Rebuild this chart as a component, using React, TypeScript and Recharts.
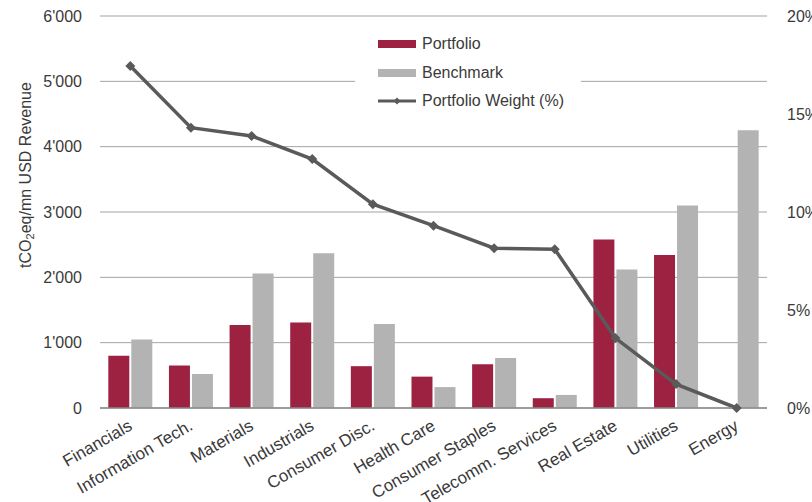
import React from "react";
import {
  ComposedChart,
  Bar,
  Line,
  XAxis,
  YAxis,
  CartesianGrid,
  Legend,
} from "recharts";

// Sectors along the x axis
const sectors = [
  "Financials",
  "Information Tech.",
  "Materials",
  "Industrials",
  "Consumer Disc.",
  "Health Care",
  "Consumer Staples",
  "Telecomm. Services",
  "Real Estate",
  "Utilities",
  "Energy",
];

// Carbon intensity, tCO2eq per mn USD revenue
const portfolio = [800, 650, 1270, 1310, 640, 480, 670, 150, 2580, 2340, 0];
const benchmark = [1050, 520, 2060, 2370, 1285, 320, 765, 200, 2120, 3100, 4250];

// Portfolio weight by sector, in percent
const weight = [17.45, 14.3, 13.88, 12.7, 10.4, 9.3, 8.15, 8.1, 3.57, 1.22, 0];

const leftTicks = [0, 1000, 2000, 3000, 4000, 5000, 6000];
const rightTicks = [0, 5, 10, 15, 20];

const data = sectors.map((sector, i) => ({
  sector,
  portfolio: portfolio[i],
  benchmark: benchmark[i],
  weight: weight[i],
}));

const FONT = "'Liberation Sans', Arial, sans-serif";
const TEXT = "#3a3a3a";
const RED = "#9d2141";
const GREY = "#b3b3b3";
const LINE = "#5a5a5a";

const fmtThousands = (v: number) =>
  v === 0 ? "0" : `${Math.floor(v / 1000)}'${String(v % 1000).padStart(3, "0")}`;

const SectorTick = (props: any) => {
  const { x, y, payload } = props;
  const px = x + 3;
  const py = y + 13;
  return (
    <text
      x={px}
      y={py}
      transform={`rotate(-30, ${px}, ${py})`}
      textAnchor="end"
      fontFamily={FONT}
      fontSize={17}
      fill={TEXT}
    >
      {payload.value}
    </text>
  );
};

const Diamond = (props: any) => {
  const { cx, cy } = props;
  if (cx == null || cy == null) return null;
  const r = 5;
  return (
    <polygon
      points={`${cx},${cy - r} ${cx + r},${cy} ${cx},${cy + r} ${cx - r},${cy}`}
      fill={LINE}
    />
  );
};

const LeftAxisTitle = () => {
  const cx = 25;
  const cy = 175;
  return (
    <text
      x={cx}
      y={cy}
      transform={`rotate(-90, ${cx}, ${cy})`}
      textAnchor="middle"
      dominantBaseline="central"
      fontFamily={FONT}
      fontSize={16}
      fill={TEXT}
    >
      tCO
      <tspan fontSize={11} dy={5}>
        2
      </tspan>
      <tspan dy={-5}>eq/mn USD Revenue</tspan>
    </text>
  );
};

const legendItems = [
  { label: "Portfolio", kind: "bar", color: RED },
  { label: "Benchmark", kind: "bar", color: GREY },
  { label: "Portfolio Weight (%)", kind: "line", color: LINE },
];

const LegendBox = () => (
  <div
    style={{
      background: "#ffffff",
      width: 226,
      height: 84,
      position: "relative",
      fontFamily: FONT,
      fontSize: 16,
      color: TEXT,
    }}
  >
    {legendItems.map((item, i) => (
      <div
        key={item.label}
        style={{
          position: "absolute",
          left: 23,
          top: 3 + i * 28.5,
          height: 20,
          display: "flex",
          alignItems: "center",
          whiteSpace: "nowrap",
        }}
      >
        <svg width={40} height={12} style={{ marginRight: 4 }}>
          {item.kind === "bar" ? (
            <rect x={0} y={2} width={38} height={8} fill={item.color} />
          ) : (
            <g>
              <line x1={0} y1={6} x2={38} y2={6} stroke={item.color} strokeWidth={3} />
              <polygon points="19,2.5 22.5,6 19,9.5 15.5,6" fill={item.color} />
            </g>
          )}
        </svg>
        <span>{item.label}</span>
      </div>
    ))}
  </div>
);

export default function App() {
  return (
    <div style={{ position: "absolute", left: 0, top: 0, width: 812, height: 502, background: "#fff" }}>
      <ComposedChart
        width={812}
        height={502}
        data={data}
        margin={{ top: 16, right: 0, bottom: 0, left: 0 }}
        barCategoryGap="13.7%"
        barGap={2}
      >
        <CartesianGrid horizontal vertical={false} stroke="#a3a3a3" yAxisId="left" />
        <XAxis
          dataKey="sector"
          height={94}
          interval={0}
          tickLine={false}
          axisLine={{ stroke: "#8a8a8a", strokeWidth: 1.5 }}
          tick={<SectorTick />}
        />
        <YAxis
          yAxisId="left"
          orientation="left"
          width={100}
          domain={[0, 6000]}
          ticks={leftTicks}
          tickFormatter={fmtThousands}
          axisLine={false}
          tickLine={false}
          tickMargin={12}
          tick={{ fontFamily: FONT, fontSize: 16, fill: TEXT }}
          label={<LeftAxisTitle />}
        />
        <YAxis
          yAxisId="right"
          orientation="right"
          width={45}
          domain={[0, 20]}
          ticks={rightTicks}
          tickFormatter={(v: number) => `${v}%`}
          axisLine={false}
          tickLine={false}
          tickMargin={14}
          tick={{ fontFamily: FONT, fontSize: 16, fill: TEXT, textAnchor: "start" }}
        />
        <Legend
          layout="vertical"
          align="center"
          verticalAlign="middle"
          wrapperStyle={{ left: 355, top: 31, width: 226, height: 84 }}
          content={<LegendBox />}
        />
        <Bar yAxisId="left" dataKey="portfolio" name="Portfolio" fill={RED} isAnimationActive={false} />
        <Bar yAxisId="left" dataKey="benchmark" name="Benchmark" fill={GREY} isAnimationActive={false} />
        <Line
          yAxisId="right"
          dataKey="weight"
          name="Portfolio Weight (%)"
          stroke={LINE}
          strokeWidth={3.5}
          dot={<Diamond />}
          activeDot={false}
          isAnimationActive={false}
        />
      </ComposedChart>
    </div>
  );
}
